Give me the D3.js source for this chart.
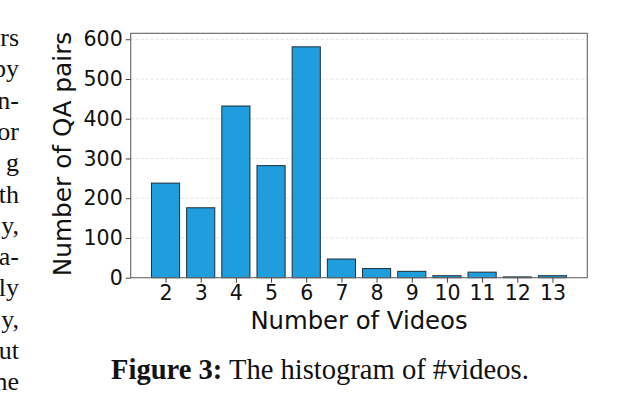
<!DOCTYPE html>
<html>
<head>
<meta charset="utf-8">
<script src="https://cdn.jsdelivr.net/npm/d3@7"></script>
<style>
  html, body { margin: 0; padding: 0; background: #fff; }
  svg { display: block; }
</style>
</head>
<body>
<svg id="chart" width="643" height="418"></svg>
<script>
// ---- data ----
const categories = ["2","3","4","5","6","7","8","9","10","11","12","13"];
const counts = [238, 176, 432, 282, 581, 47, 23, 16, 5, 14, 2, 5];
const yTicks = [0, 100, 200, 300, 400, 500, 600];
const xLabel = "Number of Videos";
const yLabel = "Number of QA pairs";
const captionBold = "Figure 3:";
const captionText = " The histogram of #videos.";
const sideFragments = ["rs","by","n-","or","g","th","y,","a-","ly","y,","ut","ne"];

(function () {
// ---- layout ----
const svg = d3.select("#chart");
const pL = 130.7, pR = 587.3, pT = 33.3, pB = 277.7;
const sansFont = "DejaVu Sans";
const serifFont = "Liberation Serif";

// x scale: numeric positions like matplotlib (xlim 1.01 .. 13.99)
const xNum = d3.scaleLinear().domain([1.01, 13.99]).range([pL, pR]);
const barW = xNum(0.8) - xNum(0);
const y = d3.scaleLinear().domain([0, 615]).range([pB, pT]);

// grid
svg.append("g").selectAll("line").data(yTicks.filter(d => d > 0)).join("line")
  .attr("x1", pL).attr("x2", pR)
  .attr("y1", d => y(d)).attr("y2", d => y(d))
  .attr("stroke", "#dcdcdc").attr("stroke-width", 0.8)
  .attr("stroke-dasharray", "3,2");

// bars
svg.append("g").selectAll("rect").data(categories).join("rect")
  .attr("x", (d) => xNum(+d) - barW / 2)
  .attr("width", barW)
  .attr("y", (d, i) => y(counts[i]))
  .attr("height", (d, i) => pB - y(counts[i]))
  .attr("fill", "#1f9ddc")
  .attr("stroke", "#1c2f3a")
  .attr("stroke-width", 1);

// frame
svg.append("rect")
  .attr("x", pL).attr("y", pT)
  .attr("width", pR - pL).attr("height", pB - pT)
  .attr("fill", "none").attr("stroke", "#666").attr("stroke-width", 1.1);

// y axis
const yAxis = d3.axisLeft(y).tickValues(yTicks).tickSize(5).tickPadding(3);
const gy = svg.append("g").attr("transform", `translate(${pL},0)`).call(yAxis);
gy.select(".domain").remove();
gy.selectAll(".tick line").attr("stroke", "#444").attr("stroke-width", 1);
gy.selectAll(".tick text").attr("font-family", sansFont).attr("font-size", 20.5).attr("fill", "#111");

// x axis
const xAxis = d3.axisBottom(xNum).tickValues(categories.map(Number))
  .tickFormat((d) => String(d)).tickSize(5).tickPadding(3);
const gx = svg.append("g").attr("transform", `translate(0,${pB})`).call(xAxis);
gx.select(".domain").remove();
gx.selectAll(".tick line").attr("stroke", "#444").attr("stroke-width", 1);
gx.selectAll(".tick text").attr("font-family", sansFont).attr("font-size", 20.5).attr("fill", "#111");

// axis labels
svg.append("text")
  .attr("x", (pL + pR) / 2).attr("y", 329)
  .attr("text-anchor", "middle")
  .attr("font-family", sansFont).attr("font-size", 24.3).attr("fill", "#111")
  .text(xLabel);

svg.append("text")
  .attr("transform", `translate(71,154) rotate(-90)`)
  .attr("text-anchor", "middle")
  .attr("font-family", sansFont).attr("font-size", 24.8).attr("fill", "#111")
  .text(yLabel);

// caption
const cap = svg.append("text")
  .attr("x", 111).attr("y", 379)
  .attr("font-family", serifFont).attr("font-size", 25).attr("fill", "#111");
cap.append("tspan").attr("font-weight", "bold").text(captionBold);
cap.append("tspan").text(captionText);
const targetW = 418;
const w = cap.node().getComputedTextLength();
cap.attr("font-size", 25 * targetW / w);

// side fragments of body text
svg.append("g").selectAll("text").data(sideFragments).join("text")
  .attr("x", 19).attr("y", (d, i) => 46 + i * 31.3)
  .attr("text-anchor", "end")
  .attr("font-family", serifFont).attr("font-size", 26).attr("fill", "#111")
  .text(d => d);
})();
</script>
</body>
</html>
